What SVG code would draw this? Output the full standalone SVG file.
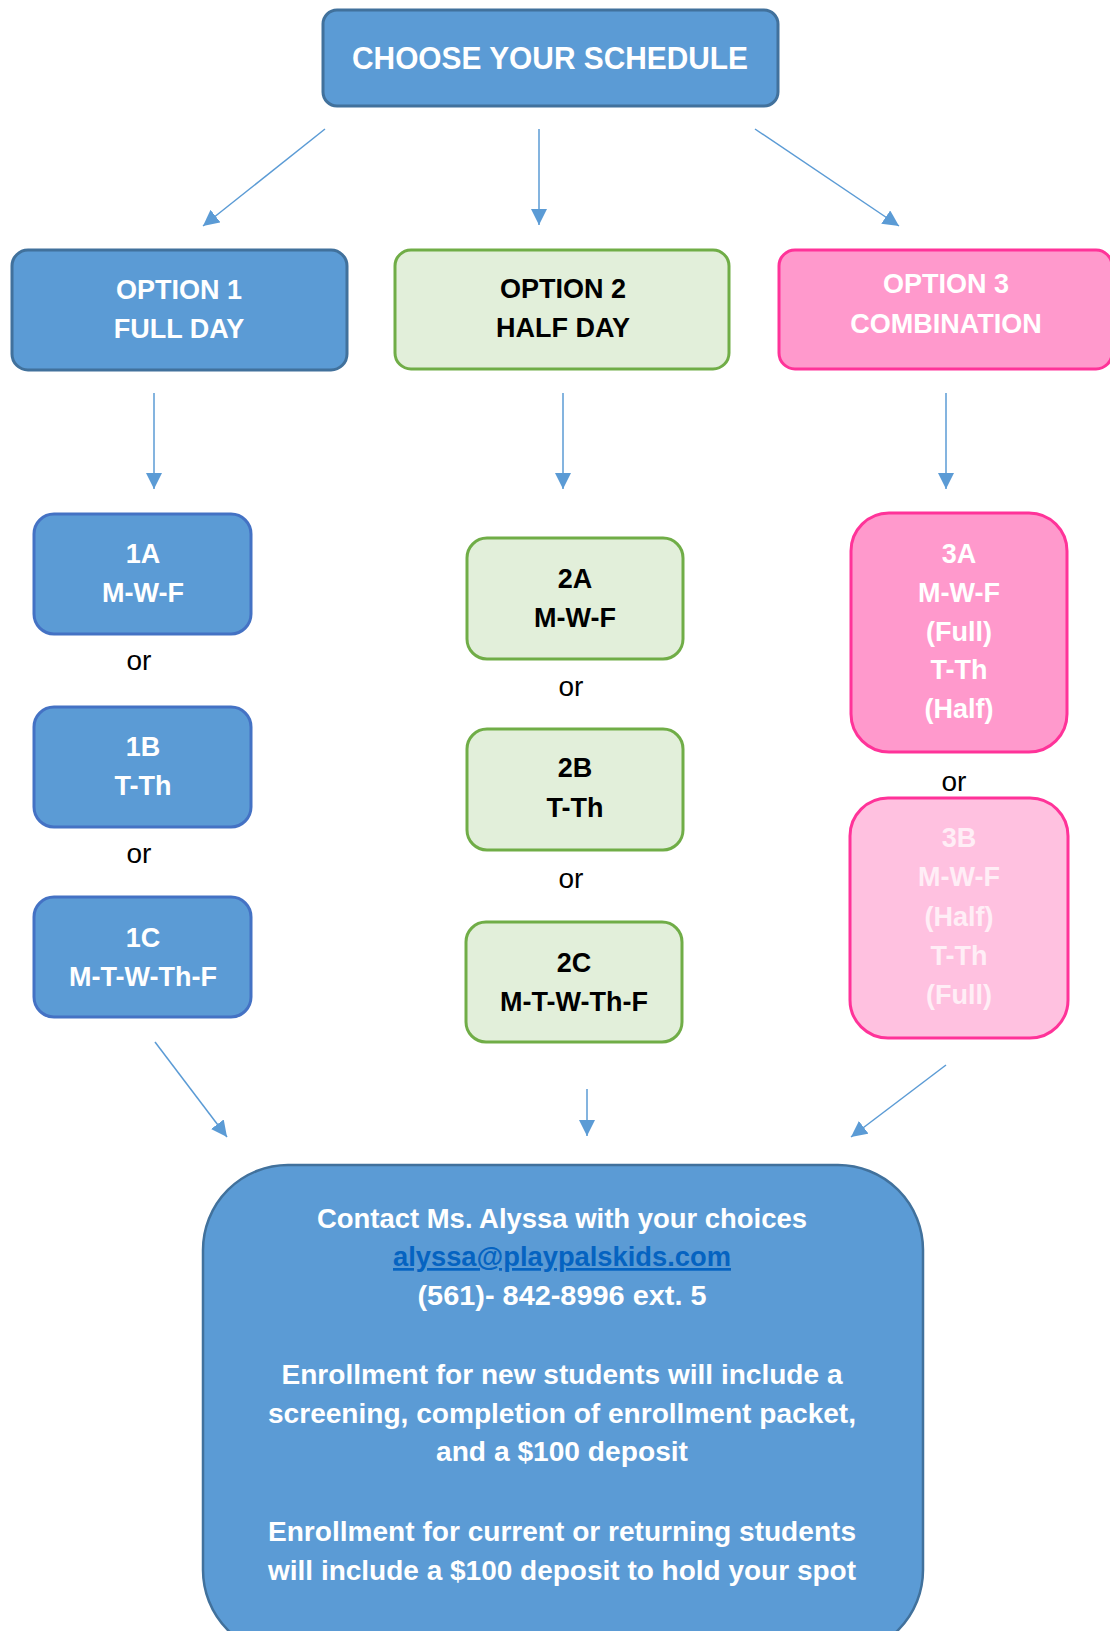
<svg xmlns="http://www.w3.org/2000/svg" width="1110" height="1631" viewBox="0 0 1110 1631">
<style>
.t{font-family:"Liberation Sans",Arial,sans-serif;font-weight:bold;text-anchor:middle}
.w{fill:#FFFFFF}
.k{fill:#000000}
.or{font-family:"Liberation Sans",Arial,sans-serif;font-size:28px;fill:#000000;text-anchor:middle}
.blue{fill:#5B9BD5;stroke:#41719C;stroke-width:3}
.blue2{fill:#5B9BD5;stroke:#4472C4;stroke-width:3}
.green{fill:#E2EFDA;stroke:#70AD47;stroke-width:3}
.pink{fill:#FF99CC;stroke:#FF3399;stroke-width:3}
.pink2{fill:#FFC1E0;stroke:#FF3399;stroke-width:3}
.c{stroke:#5B9BD5;stroke-width:1.5;fill:none;marker-end:url(#ah)}
</style>
<defs>
<marker id="ah" markerUnits="userSpaceOnUse" markerWidth="17" markerHeight="16" refX="16" refY="8" orient="auto">
<path d="M0,0 L16,8 L0,16 z" fill="#5B9BD5"/>
</marker>
</defs>
<rect width="1110" height="1631" fill="#FFFFFF"/>
<g id="connectors">
<line class="c" x1="325" y1="129" x2="203" y2="226"/>
<line class="c" x1="539" y1="129" x2="539" y2="225"/>
<line class="c" x1="755" y1="129" x2="899" y2="226"/>
<line class="c" x1="154" y1="393" x2="154" y2="489"/>
<line class="c" x1="563" y1="393" x2="563" y2="489"/>
<line class="c" x1="946" y1="393" x2="946" y2="489"/>
<line class="c" x1="155" y1="1042" x2="227" y2="1137"/>
<line class="c" x1="587" y1="1089" x2="587" y2="1136"/>
<line class="c" x1="946" y1="1065" x2="851" y2="1137"/>
</g>
<g id="choose">
<rect class="blue" x="323" y="10" width="455" height="96" rx="14"/>
<text class="t w" x="550" y="69" font-size="32" textLength="396" lengthAdjust="spacingAndGlyphs">CHOOSE YOUR SCHEDULE</text>
</g>
<g id="option1">
<rect class="blue" x="12" y="250" width="335" height="120" rx="16"/>
<text class="t w" x="179" y="299" font-size="27">OPTION 1</text>
<text class="t w" x="179" y="338" font-size="27">FULL DAY</text>
</g>
<g id="option2">
<rect class="green" x="395" y="250" width="334" height="119" rx="16"/>
<text class="t k" x="563" y="298" font-size="27">OPTION 2</text>
<text class="t k" x="563" y="337" font-size="27">HALF DAY</text>
</g>
<g id="option3">
<rect class="pink" x="779" y="250" width="333" height="119" rx="16"/>
<text class="t w" x="946" y="293" font-size="27">OPTION 3</text>
<text class="t w" x="946" y="333" font-size="27">COMBINATION</text>
</g>
<g id="n1A">
<rect class="blue2" x="34" y="514" width="217" height="120" rx="20"/>
<text class="t w" x="143" y="563" font-size="27">1A</text>
<text class="t w" x="143" y="602" font-size="27">M-W-F</text>
</g>
<text class="or" x="139" y="670">or</text>
<g id="n1B">
<rect class="blue2" x="34" y="707" width="217" height="120" rx="20"/>
<text class="t w" x="143" y="756" font-size="27">1B</text>
<text class="t w" x="143" y="795" font-size="27">T-Th</text>
</g>
<text class="or" x="139" y="863">or</text>
<g id="n1C">
<rect class="blue2" x="34" y="897" width="217" height="120" rx="20"/>
<text class="t w" x="143" y="947" font-size="27">1C</text>
<text class="t w" x="143" y="986" font-size="27">M-T-W-Th-F</text>
</g>
<g id="n2A">
<rect class="green" x="467" y="538" width="216" height="121" rx="20"/>
<text class="t k" x="575" y="588" font-size="27">2A</text>
<text class="t k" x="575" y="627" font-size="27">M-W-F</text>
</g>
<text class="or" x="571" y="696">or</text>
<g id="n2B">
<rect class="green" x="467" y="729" width="216" height="121" rx="20"/>
<text class="t k" x="575" y="777" font-size="27">2B</text>
<text class="t k" x="575" y="817" font-size="27">T-Th</text>
</g>
<text class="or" x="571" y="888">or</text>
<g id="n2C">
<rect class="green" x="466" y="922" width="216" height="120" rx="20"/>
<text class="t k" x="574" y="972" font-size="27">2C</text>
<text class="t k" x="574" y="1011" font-size="27">M-T-W-Th-F</text>
</g>
<g id="n3A">
<rect class="pink" x="851" y="513" width="216" height="239" rx="38"/>
<text class="t w" x="959" y="563" font-size="27">3A</text>
<text class="t w" x="959" y="602" font-size="27">M-W-F</text>
<text class="t w" x="959" y="641" font-size="27">(Full)</text>
<text class="t w" x="959" y="679" font-size="27">T-Th</text>
<text class="t w" x="959" y="718" font-size="27">(Half)</text>
</g>
<text class="or" x="954" y="791">or</text>
<g id="n3B">
<rect class="pink2" x="850" y="798" width="218" height="240" rx="38"/>
<text class="t" fill="#FFEEF6" x="959" y="847" font-size="27">3B</text>
<text class="t" fill="#FFEEF6" x="959" y="886" font-size="27">M-W-F</text>
<text class="t" fill="#FFEEF6" x="959" y="926" font-size="27">(Half)</text>
<text class="t" fill="#FFEEF6" x="959" y="965" font-size="27">T-Th</text>
<text class="t" fill="#FFEEF6" x="959" y="1004" font-size="27">(Full)</text>
</g>
<g id="contact">
<rect x="203" y="1165" width="720" height="490" rx="85" fill="#5B9BD5" stroke="#41719C" stroke-width="2.5"/>
<text class="t w" x="562" y="1228" font-size="27" textLength="490" lengthAdjust="spacingAndGlyphs">Contact Ms. Alyssa with your choices</text>
<text class="t" fill="#0563C1" text-decoration="underline" x="562" y="1266" font-size="27" textLength="338" lengthAdjust="spacingAndGlyphs">alyssa@playpalskids.com</text>
<text class="t w" x="562" y="1305" font-size="27" textLength="289" lengthAdjust="spacingAndGlyphs">(561)- 842-8996 ext. 5</text>
<text class="t w" x="562" y="1384" font-size="27" textLength="561" lengthAdjust="spacingAndGlyphs">Enrollment for new students will include a</text>
<text class="t w" x="562" y="1423" font-size="27" textLength="588" lengthAdjust="spacingAndGlyphs">screening, completion of enrollment packet,</text>
<text class="t w" x="562" y="1461" font-size="27" textLength="252" lengthAdjust="spacingAndGlyphs">and a $100 deposit</text>
<text class="t w" x="562" y="1541" font-size="27" textLength="588" lengthAdjust="spacingAndGlyphs">Enrollment for current or returning students</text>
<text class="t w" x="562" y="1580" font-size="27" textLength="588" lengthAdjust="spacingAndGlyphs">will include a $100 deposit to hold your spot</text>
</g>
</svg>
